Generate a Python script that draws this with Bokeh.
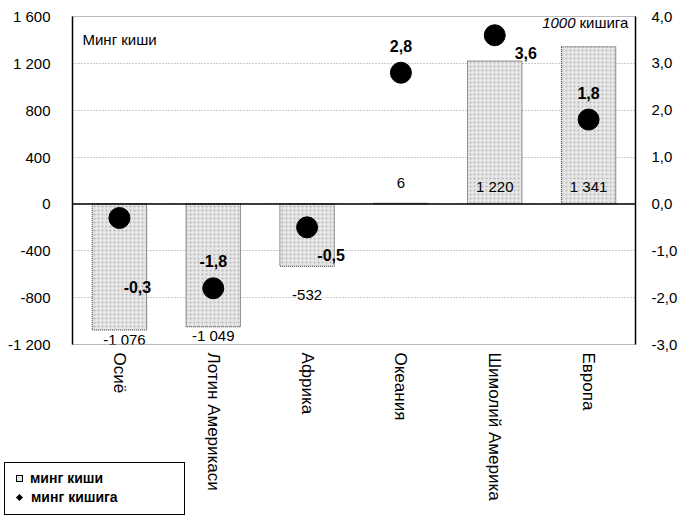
from bokeh.plotting import figure
from bokeh.models import (ColumnDataSource, Range1d, LinearAxis, FixedTicker, Span,
                          Label, Div)
from bokeh.layouts import column
from bokeh.core.properties import value
from bokeh.embed import file_html
from bokeh.resources import INLINE

categories = ["Осиё", "Лотин Америкаси", "Африка", "Океания", "Шимолий Америка", "Европа"]
thousand_people = [-1076, -1049, -532, 6, 1220, 1341]
bar_labels = ["-1 076", "-1 049", "-532", "6", "1 220", "1 341"]
per_1000 = [-0.3, -1.8, -0.5, 2.8, 3.6, 1.8]
point_labels = ["-0,3", "-1,8", "-0,5", "2,8", "3,6", "1,8"]
left_ticks = [-1200, -800, -400, 0, 400, 800, 1200, 1600]
left_tick_labels = ["-1 200", "-800", "-400", "0", "400", "800", "1 200", "1 600"]
right_ticks = [-3, -2, -1, 0, 1, 2, 3, 4]
right_tick_labels = ["-3,0", "-2,0", "-1,0", "0,0", "1,0", "2,0", "3,0", "4,0"]
legend_labels = ["минг киши", "минг кишига"]

# label placement styling (pixels)
bar_lab_dx = [5, 0, 0, 0, 0, 0]
bar_lab_dy = [1, 0, 24, -26, -26, -26]
pt_lab_dx = [18, 0, 24, 0, 31, 0]
pt_lab_dy = [69, -27, 28, -27, 18, -27]

FONT = "Liberation Sans"

p = figure(x_range=categories, y_range=Range1d(-1200, 1600), width=680, height=517,
           output_backend="svg", toolbar_location=None,
           min_border_left=72, min_border_right=45, min_border_top=16, min_border_bottom=173)
p.extra_y_ranges = {"right": Range1d(-3, 4)}

p.background_fill_color = "white"
p.border_fill_color = "white"
p.outline_line_color = "#777777"
p.outline_line_dash = "1 1"

p.xgrid.grid_line_color = None
p.ygrid.grid_line_color = "#999999"
p.ygrid.grid_line_dash = "1 2"
p.ygrid.ticker = FixedTicker(ticks=left_ticks)

src = ColumnDataSource(dict(
    cat=categories, v=thousand_people, lab=bar_labels,
    laby=[v if v < 0 else 0 for v in thousand_people],
    bdx=bar_lab_dx, bdy=bar_lab_dy,
    r=per_1000, plab=point_labels, pdx=pt_lab_dx, pdy=pt_lab_dy,
))

p.vbar(x="cat", top="v", bottom=0, width=0.58, source=src,
       fill_color="#e6e6e6", hatch_pattern="dot", hatch_color="#b4b4b4",
       hatch_scale=4, hatch_weight=1,
       line_color="#333333", line_dash="1 1", line_width=1)

p.add_layout(Span(location=0, dimension="width", line_color="black", line_width=1.5))

p.scatter(x="cat", y="r", y_range_name="right", source=src, size=21,
          marker="circle", fill_color="black", line_color="black")

p.text(x="cat", y="laby", text="lab", source=src, x_offset="bdx", y_offset="bdy",
       text_align="center", text_baseline="top", text_font=value(FONT),
       text_font_size="15px", text_color="black")
p.text(x="cat", y="r", text="plab", source=src, y_range_name="right",
       x_offset="pdx", y_offset="pdy", text_align="center", text_baseline="middle",
       text_font=value(FONT), text_font_size="16px", text_font_style="bold",
       text_color="black")

# axes
p.yaxis.ticker = FixedTicker(ticks=left_ticks)
p.yaxis.major_label_overrides = {t: l for t, l in zip(left_ticks, left_tick_labels)}
p.yaxis.axis_line_color = "black"
p.yaxis.axis_line_width = 1.5
p.yaxis.major_tick_line_color = None
p.yaxis.major_tick_out = 0
p.yaxis.minor_tick_line_color = None
p.yaxis.major_label_standoff = 22
p.yaxis.major_label_text_font = FONT
p.yaxis.major_label_text_font_size = "15px"
p.yaxis.major_label_text_color = "black"

ra = LinearAxis(y_range_name="right", ticker=FixedTicker(ticks=right_ticks))
ra.major_label_overrides = {t: l for t, l in zip(right_ticks, right_tick_labels)}
ra.axis_line_color = "black"
ra.axis_line_width = 1.5
ra.major_tick_line_color = None
ra.major_tick_out = 0
ra.minor_tick_line_color = None
ra.major_label_standoff = 16
ra.major_label_text_font = FONT
ra.major_label_text_font_size = "15px"
ra.major_label_text_color = "black"
p.add_layout(ra, "right")

p.xaxis.axis_line_color = None
p.xaxis.major_tick_line_color = None
p.xaxis.major_tick_out = 0
p.xaxis.major_label_orientation = "vertical"
p.xaxis.major_label_text_font = FONT
p.xaxis.major_label_text_font_size = "17px"
p.xaxis.major_label_text_color = "black"
p.xaxis.major_label_standoff = 8

p.add_layout(Label(x=10, y=305, x_units="screen", y_units="screen", text="Минг киши",
                   text_font=FONT, text_font_size="15px", text_color="black",
                   text_baseline="middle"))
p.add_layout(Label(x=503, y=322, x_units="screen", y_units="screen", text="1000",
                   text_font=FONT, text_font_size="15px", text_font_style="italic",
                   text_color="black", text_align="right", text_baseline="middle"))
p.add_layout(Label(x=507, y=322, x_units="screen", y_units="screen", text="кишига",
                   text_font=FONT, text_font_size="15px", text_color="black",
                   text_baseline="middle"))

# legend box
legend_html = (
    '<div style="width:181px;height:53px;box-sizing:border-box;border:1px solid #000;'
    'background:#fff;position:relative;font-family:\'Liberation Sans\';font-size:14px;'
    'font-weight:bold;color:#000;">'
    '<div style="position:absolute;left:11px;top:7px;line-height:16px;white-space:nowrap;">'
    '<span style="display:inline-block;width:7px;height:7px;border:1px solid #000;'
    'background:#e6e6e6;margin-right:7px;vertical-align:1px;"></span>'
    + legend_labels[0] + '</div>'
    '<div style="position:absolute;left:12px;top:26px;line-height:16px;white-space:nowrap;">'
    '<span style="display:inline-block;width:5px;height:5px;background:#000;'
    'transform:rotate(45deg);margin-right:9px;vertical-align:2px;"></span>'
    + legend_labels[1] + '</div>'
    '</div>'
)
leg = Div(text=legend_html, width=181, height=53)
leg.margin = (-55, 0, 0, 4)

layout = column(p, leg, spacing=0)
open("out.html", "w").write(file_html(layout, INLINE))
